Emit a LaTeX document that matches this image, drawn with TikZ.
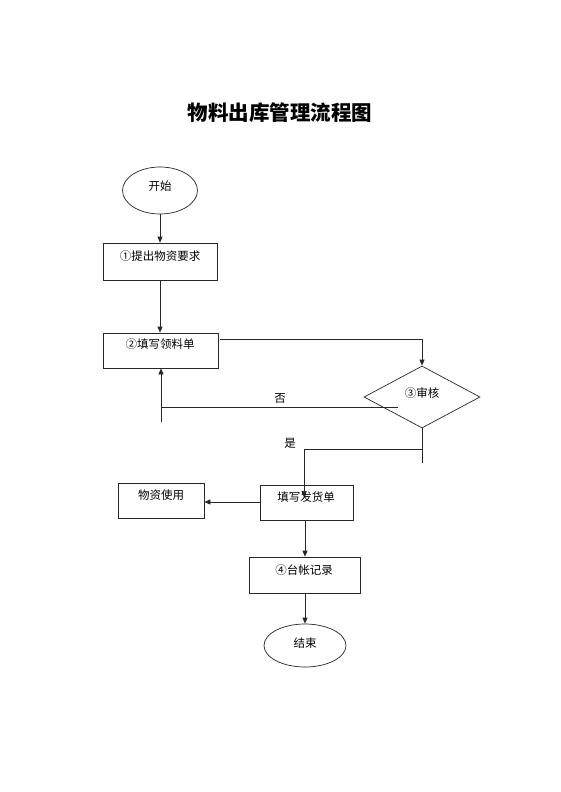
\documentclass[tikz,border=0pt]{standalone}
\usepackage{fontspec}
\setmainfont{Noto Sans CJK SC}
\usetikzlibrary{arrows.meta,shapes.geometric}
\begin{document}
\begin{tikzpicture}[x=1pt,y=-1pt,
  ln/.style={draw=black!85,line width=0.7pt},
  arr/.style={ln,-{Triangle[length=6pt,width=5pt]}},
  boxs/.style={draw=black!85,line width=0.7pt,rectangle,inner sep=0pt},
  ell/.style={draw=black!85,line width=0.7pt,ellipse,inner sep=0pt},
  dia/.style={draw=black!85,line width=0.7pt,diamond,inner sep=0pt},
  txt/.style={font=\fontsize{11.5}{13}\selectfont,inner sep=0pt}]
\useasboundingbox (0,0) rectangle (560,792);
\fill[white] (0,0) rectangle (560,792);
\node[font=\fontsize{20.5}{24}\selectfont\bfseries,inner sep=0pt] (title) at (280,112.5) {物料出库管理流程图};
% shapes
\node[ell,minimum width=75pt,minimum height=47pt] (start) at (160,190.5) {};
\node[boxs,minimum width=114pt,minimum height=37pt] (b1) at (160,261.5) {};
\node[boxs,minimum width=115pt,minimum height=35pt] (b2) at (160.5,350.5) {};
\node[dia,minimum width=116pt,minimum height=62pt] (d) at (422,397) {};
\node[boxs,minimum width=93pt,minimum height=35pt] (b3) at (306.5,502.5) {};
\node[boxs,minimum width=86pt,minimum height=35pt] (b5) at (161,500.5) {};
\node[boxs,minimum width=111pt,minimum height=36pt] (b4) at (304.5,575) {};
\node[ell,minimum width=82pt,minimum height=43pt] (end) at (305,645.5) {};
% texts
\node[txt] (tstart) at (160,186) {开始};
\node[txt] (tb1) at (160,256.5) {①提出物资要求};
\node[txt] (tb2) at (160,344) {②填写领料单};
\node[txt] (td) at (422,393) {③审核};
\node[txt] (tb3) at (306,497.5) {填写发货单};
\node[txt] (tb5) at (161,495) {物资使用};
\node[txt] (tb4) at (304,570) {④台帐记录};
\node[txt] (tend) at (305,643) {结束};
\node[txt] (no) at (280,398) {否};
\node[txt] (yes) at (290,443) {是};
% helper coordinates
\coordinate (b2out) at (220,339);
\coordinate (dnoA) at (398,407);
\coordinate (loopc) at (161,407);
\coordinate (loopstub) at (161,422);
\coordinate (dstub) at (422,463);
\coordinate (yesc) at (422,449);
\coordinate (yesTip) at (304,497);
% connectors
\draw[arr] (start.south) -- (b1.north);
\draw[arr] (b1.south) -- (b2.north -| b1.south);
\draw[arr] (b2out) -| (d.north);
\draw[arr] (dnoA) -- (loopc) -- (loopc |- b2.south);
\draw[ln] (loopc) -- (loopstub);
\draw[ln] (d.south) -- (dstub);
\draw[arr] (yesc) -| (yesTip);
\draw[arr] (b3.west |- 0,502) -- (b5.east |- 0,502);
\draw[arr] (b3.south -| 305,0) -- (b4.north -| 305,0);
\draw[arr] (b4.south -| 305,0) -- (end.north);
\end{tikzpicture}
\end{document}
